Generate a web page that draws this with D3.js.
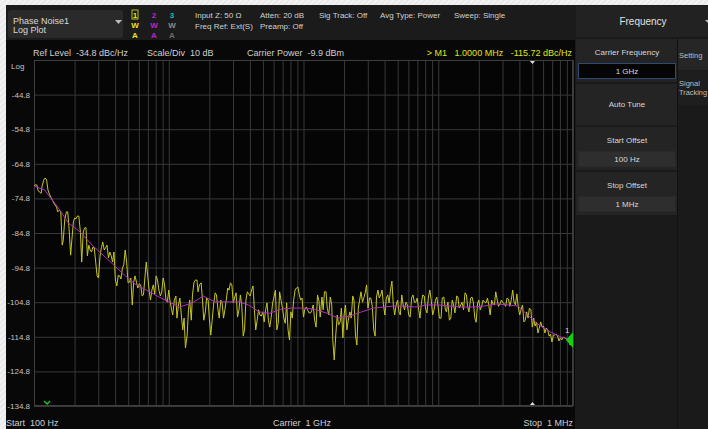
<!DOCTYPE html>
<html>
<head>
<meta charset="utf-8">
<script src="https://cdn.jsdelivr.net/npm/d3@7/dist/d3.min.js"></script>
<style>
  html, body { margin: 0; padding: 0; background: #000; }
  svg { display: block; font-family: "Liberation Sans", Arial, sans-serif; }
</style>
</head>
<body>
<svg id="chart" width="708" height="429"></svg>
<script>
// sweep offsets (Hz) of the live trace
const traceFreq = [
  100,102,105,107,110,113,115,118,121,124,127,130,133,137,140,143,147,150,154,158,162,165,169,174,
  178,182,187,191,196,200,205,210,215,221,226,232,237,243,249,255,261,267,274,280,287,294,301,309,
  316,324,332,340,348,357,365,374,383,392,402,412,422,432,442,453,464,475,487,499,511,523,536,549,
  562,576,590,604,619,634,649,665,681,698,715,732,750,768,787,806,825,845,866,887,909,931,953,976,
  1000,1020,1050,1070,1100,1130,1150,1180,1210,1240,1270,1300,1330,1370,1400,1430,1470,1500,1540,1580,1620,1650,1690,1740,
  1780,1820,1870,1910,1960,2000,2050,2100,2150,2210,2260,2320,2370,2430,2490,2550,2610,2670,2740,2800,2870,2940,3010,3090,
  3160,3240,3320,3400,3480,3570,3650,3740,3830,3920,4020,4120,4220,4320,4420,4530,4640,4750,4870,4990,5110,5230,5360,5490,
  5620,5760,5900,6040,6190,6340,6490,6650,6810,6980,7150,7320,7500,7680,7870,8060,8250,8450,8660,8870,9090,9310,9530,9760,
  10000,10200,10500,10700,11000,11300,11500,11800,12100,12400,12700,13000,13300,13700,14000,14300,14700,15000,15400,15800,16200,16500,16900,17400,
  17800,18200,18700,19100,19600,20000,20500,21000,21500,22100,22600,23200,23700,24300,24900,25500,26100,26700,27400,28000,28700,29400,30100,30900,
  31600,32400,33200,34000,34800,35700,36500,37400,38300,39200,40200,41200,42200,43200,44200,45300,46400,47500,48700,49900,51100,52300,53600,54900,
  56200,57600,59000,60400,61900,63400,64900,66500,68100,69800,71500,73200,75000,76800,78700,80600,82500,84500,86600,88700,90900,93100,95300,97600,
  100000,102000,105000,107000,110000,113000,115000,118000,121000,124000,127000,130000,133000,137000,140000,143000,147000,150000,154000,158000,162000,165000,169000,174000,
  178000,182000,187000,191000,196000,200000,205000,210000,215000,221000,226000,232000,237000,243000,249000,255000,261000,267000,274000,280000,287000,294000,301000,309000,
  316000,324000,332000,340000,348000,357000,365000,374000,383000,392000,402000,412000,422000,432000,442000,453000,464000,475000,487000,499000,511000,523000,536000,549000,
  562000,576000,590000,604000,619000,634000,649000,665000,681000,698000,715000,732000,750000,768000,787000,806000,825000,845000,866000,887000,909000,931000,953000,976000,
  1000000
]

// trace 1 (yellow, live), dBc/Hz
const traceDb = [
  -71.2,-70.9,-70.9,-72.4,-73.0,-73.3,-71.2,-69.5,-68.9,-69.5,-72.4,-73.5,
  -74.4,-75.3,-76.1,-76.7,-77.3,-78.7,-78.2,-78.7,-88.3,-86.8,-81.0,-78.7,
  -78.7,-83.4,-91.2,-86.8,-81.6,-80.5,-80.7,-79.9,-79.9,-84.5,-93.2,-84.5,
  -83.4,-83.2,-91.4,-88.3,-89.7,-90.3,-88.8,-89.1,-93.2,-97.2,-97.8,-91.5,
  -89.1,-87.4,-89.7,-89.1,-88.3,-92.0,-90.3,-91.4,-93.2,-90.3,-98.4,-100.1,
  -97.0,-97.2,-98.1,-94.9,-94.0,-89.7,-93.2,-99.2,-99.0,-97.8,-105.6,-99.0,
  -97.2,-99.0,-100.7,-99.5,-99.8,-103.0,-102.7,-97.8,-93.2,-97.2,-101.3,-104.2,
  -101.3,-99.8,-102.4,-97.2,-98.4,-101.3,-103.0,-101.8,-97.8,-99.8,-104.2,-104.8,

  -101.3,-104.2,-107.0,-108.5,-104.2,-103.0,-109.4,-105.6,-103.6,-108.5,-112.8,-109.4,
  -118.0,-114.3,-107.0,-104.2,-110.0,-102.7,-99.0,-98.4,-98.4,-101.8,-99.8,-99.2,
  -104.2,-110.0,-107.6,-103.6,-104.2,-109.4,-114.3,-110.0,-105.6,-102.1,-102.7,-107.0,
  -109.4,-104.2,-105.0,-109.4,-107.0,-104.2,-100.7,-101.3,-99.2,-99.8,-105.0,-103.3,
  -102.1,-109.1,-107.0,-102.7,-105.6,-114.6,-112.8,-104.2,-101.8,-102.4,-103.0,-101.3,
  -100.1,-107.0,-112.8,-110.0,-107.0,-108.5,-108.8,-107.6,-110.5,-107.0,-105.0,-110.0,
  -112.0,-109.1,-105.0,-103.3,-101.3,-112.8,-110.9,-101.8,-104.2,-106.5,-109.4,-110.9,
  -105.0,-112.8,-115.7,-107.6,-109.4,-104.2,-101.3,-100.7,-100.4,-102.7,-104.2,-103.6,

  -109.1,-107.0,-106.2,-107.0,-107.9,-107.9,-107.3,-105.6,-110.0,-112.0,-102.7,-104.2,
  -109.1,-103.3,-107.0,-101.8,-101.8,-106.5,-108.5,-103.3,-105.6,-115.7,-121.5,-113.7,
  -108.5,-111.4,-110.5,-106.5,-115.1,-108.5,-105.6,-112.8,-110.0,-107.6,-109.4,-103.0,
  -104.2,-114.3,-117.2,-106.5,-104.2,-101.8,-104.8,-103.6,-102.1,-99.8,-106.5,-103.6,
  -103.6,-106.0,-112.8,-114.6,-103.3,-101.3,-103.6,-102.7,-101.3,-105.6,-108.5,-103.6,
  -102.7,-105.0,-101.3,-98.7,-105.6,-108.5,-105.6,-104.2,-107.6,-108.5,-102.7,-105.6,
  -107.0,-104.8,-105.6,-108.5,-109.1,-103.6,-102.7,-104.8,-104.8,-103.6,-106.8,-109.4,
  -105.0,-102.7,-103.0,-106.8,-107.9,-103.3,-101.3,-104.2,-108.5,-107.0,-104.2,-103.3,

  -106.5,-109.4,-109.4,-103.6,-103.3,-107.0,-107.6,-104.8,-110.0,-109.4,-104.2,-105.6,
  -107.9,-103.0,-103.3,-106.5,-105.6,-104.8,-107.0,-102.1,-102.7,-106.0,-107.6,-103.6,
  -103.3,-104.8,-109.4,-110.6,-105.0,-104.2,-107.0,-106.0,-104.2,-104.8,-105.0,-103.6,
  -105.6,-108.5,-104.2,-105.3,-105.6,-101.8,-104.2,-106.0,-105.3,-104.2,-104.8,-105.3,
  -106.0,-103.6,-103.9,-106.0,-104.2,-101.3,-104.8,-105.6,-102.4,-106.0,-108.5,-107.0,
  -105.6,-110.5,-110.0,-107.6,-109.4,-106.5,-107.0,-112.0,-109.4,-111.7,-110.5,-113.7,
  -112.3,-110.5,-112.0,-111.7,-113.7,-112.3,-112.8,-114.6,-114.0,-116.3,-114.3,-114.3,
  -114.0,-114.6,-116.0,-115.1,-115.7,-114.9,-115.1,-115.4,-115.7,-116.3,-117.2,-116.0,
  -115.7
]

// trace 2 (magenta, averaged)
const avgFreq = [
  100,120,150,180,220,270,330,390,470,560,680,820,
  1000,1200,1500,1800,2200,2700,3300,3900,4700,5600,6800,8200,
  10000,12000,15000,18000,22000,27000,33000,39000,47000,56000,68000,82000,
  100000,120000,150000,180000,220000,270000,330000,390000,470000,560000,680000,820000,
  1000000
]
const avgDb = [
  -71.2,-72.4,-77.3,-81.9,-84.5,-88.3,-91.4,-94.0,-97.0,-99.5,-101.3,-103.0,
  -104.7,-106.2,-105.0,-103.0,-104.7,-104.7,-104.7,-105.6,-107.6,-108.0,-106.8,-106.5,
  -106.5,-106.8,-108.0,-109.4,-108.8,-107.6,-106.5,-106.2,-105.9,-105.9,-106.2,-105.6,
  -105.6,-105.9,-106.2,-106.2,-105.9,-105.3,-105.6,-105.9,-108.8,-111.4,-113.4,-114.9,
  -115.7
]

const yTicks = [-34.8,-44.8,-54.8,-64.8,-74.8,-84.8,-94.8,-104.8,-114.8,-124.8,-134.8]
const marker = {freq: 1000000, db: -115.72}

const svg = d3.select('#chart')
const W = 708, H = 429
const margin = {top: 60, right: 135, bottom: 23, left: 34}
const plotW = W - margin.left - margin.right
const plotH = H - margin.top - margin.bottom

// background + hatched frame
const defs = svg.append('defs')
const hatch = defs.append('pattern').attr('id', 'hatch').attr('patternUnits', 'userSpaceOnUse')
  .attr('width', 4).attr('height', 4).attr('patternTransform', 'rotate(45)')
hatch.append('rect').attr('width', 4).attr('height', 4).attr('fill', '#f2f2f2')
hatch.append('line').attr('x1', 0).attr('y1', 0).attr('x2', 0).attr('y2', 4).attr('stroke', '#d9d9d9').attr('stroke-width', 1.2)

svg.append('rect').attr('width', W).attr('height', H).attr('fill', '#080808')
svg.append('rect').attr('width', W).attr('height', 5).attr('fill', 'url(#hatch)')
svg.append('rect').attr('width', 6).attr('height', H).attr('fill', 'url(#hatch)')

// header bar
svg.append('rect').attr('x', 6).attr('y', 5).attr('width', 569).attr('height', 35).attr('fill', '#1b1b1b')
svg.append('rect').attr('x', 8).attr('y', 10).attr('width', 115).attr('height', 28).attr('rx', 3).attr('fill', '#2a2a2a')
svg.append('text').attr('x', 13).attr('y', 24).attr('fill', '#d8d8d8').attr('font-size', 9).text('Phase Noise1')
svg.append('text').attr('x', 13).attr('y', 33).attr('fill', '#d8d8d8').attr('font-size', 9).text('Log Plot')
svg.append('path').attr('d', 'M115,20 L122,20 L118.5,24 Z').attr('fill', '#bbb')

const traceCols = [
  {n: '1', c: '#e4e41e', w: '#e4e41e', a: '#e4e41e', x: 135},
  {n: '2', c: '#c020c8', w: '#c020c8', a: '#c020c8', x: 154},
  {n: '3', c: '#20b8b8', w: '#8a8a8a', a: '#6a6a6a', x: 172}
]
traceCols.forEach(t => {
  const g = svg.append('g').attr('font-size', 8).attr('font-weight', 'bold').attr('text-anchor', 'middle')
  g.append('text').attr('x', t.x).attr('y', 18).attr('fill', t.c).text(t.n)
  g.append('text').attr('x', t.x).attr('y', 28).attr('fill', t.w).text('W')
  g.append('text').attr('x', t.x).attr('y', 38).attr('fill', t.a).text('A')
})
svg.append('rect').attr('x', 132).attr('y', 10).attr('width', 6).attr('height', 9).attr('fill', 'none').attr('stroke', '#e4e41e').attr('stroke-width', 0.8)

const hdr = [
  ['Input Z: 50 Ω', 195, 18], ['Freq Ref: Ext(S)', 195, 29],
  ['Atten: 20 dB', 260, 18], ['Preamp: Off', 260, 29],
  ['Sig Track: Off', 319, 18], ['Avg Type: Power', 380, 18], ['Sweep: Single', 454, 18]
]
hdr.forEach(h => svg.append('text').attr('x', h[1]).attr('y', h[2]).attr('fill', '#d0d0d0').attr('font-size', 8).text(h[0]))

// info row
const info = svg.append('g').attr('font-size', 9).attr('fill', '#d0d0d0')
info.append('text').attr('x', 33).attr('y', 56).attr('xml:space', 'preserve').text('Ref Level  -34.8 dBc/Hz')
info.append('text').attr('x', 147).attr('y', 56).attr('xml:space', 'preserve').text('Scale/Div  10 dB')
info.append('text').attr('x', 247).attr('y', 56).attr('xml:space', 'preserve').text('Carrier Power  -9.9 dBm')
info.append('text').attr('x', 572).attr('y', 56).attr('text-anchor', 'end').attr('fill', '#e2e21e')
  .attr('xml:space', 'preserve').text('> M1   1.0000 MHz   -115.72 dBc/Hz')

// scales
const x = d3.scaleLog().domain([100, 1e6]).range([margin.left, margin.left + plotW])
const y = d3.scaleLinear().domain([-134.8, -34.8]).range([margin.top + plotH, margin.top])

const plot = svg.append('g')
plot.append('rect').attr('x', margin.left).attr('y', margin.top).attr('width', plotW).attr('height', plotH).attr('fill', '#050505')

// vertical grid (log minor lines)
plot.append('g')
  .attr('transform', `translate(0,${margin.top + plotH})`)
  .call(d3.axisBottom(x).tickSize(-plotH).tickFormat(''))
  .call(g => g.select('.domain').remove())
  .call(g => g.selectAll('.tick line').attr('stroke', '#383838'))

// horizontal grid + labels
plot.append('g')
  .attr('transform', `translate(${margin.left},0)`)
  .call(d3.axisLeft(y).tickValues(yTicks).tickSize(-plotW).tickPadding(4)
    .tickFormat(d => d === -34.8 ? '' : d.toFixed(1)))
  .call(g => g.select('.domain').remove())
  .call(g => g.selectAll('.tick line').attr('stroke', '#383838'))
  .call(g => g.selectAll('.tick text').attr('fill', '#c4c4c4').attr('font-size', 8)
    .attr('font-family', '"Liberation Sans", Arial, sans-serif'))
svg.append('text').attr('x', 11).attr('y', 69).attr('fill', '#c4c4c4').attr('font-size', 8).text('Log')

plot.append('rect').attr('x', margin.left + 0.5).attr('y', margin.top + 0.5).attr('width', plotW - 1).attr('height', plotH - 1)
  .attr('fill', 'none').attr('stroke', '#3e3e3e')

// traces
const clip = defs.append('clipPath').attr('id', 'clip')
clip.append('rect').attr('x', margin.left).attr('y', margin.top).attr('width', plotW).attr('height', plotH)

const line = d3.line().x(d => x(d[0])).y(d => y(d[1]))
plot.append('path')
  .datum(d3.zip(traceFreq, traceDb))
  .attr('clip-path', 'url(#clip)')
  .attr('fill', 'none').attr('stroke', '#c6c624').attr('stroke-width', 1)
  .attr('stroke-linejoin', 'round')
  .attr('d', line)
plot.append('path')
  .datum(d3.zip(avgFreq, avgDb))
  .attr('clip-path', 'url(#clip)')
  .attr('fill', 'none').attr('stroke', '#b22fbe').attr('stroke-width', 1)
  .attr('d', line)

// markers
const mx = x(marker.freq), my = y(marker.db)
plot.append('path').attr('d', `M${mx},${my - 8} L${mx - 7},${my} L${mx},${my + 8} Z`).attr('fill', '#12d012')
plot.append('text').attr('x', mx - 8).attr('y', my - 7).attr('fill', '#d8d8d8').attr('font-size', 8).text('1')
const lx = x(500000)
plot.append('path').attr('d', `M${lx - 2.5},${margin.top + 1} L${lx + 2.5},${margin.top + 1} L${lx},${margin.top + 4} Z`).attr('fill', '#ddd')
plot.append('path').attr('d', `M${lx - 2.5},${margin.top + plotH - 1} L${lx + 2.5},${margin.top + plotH - 1} L${lx},${margin.top + plotH - 4} Z`).attr('fill', '#ddd')
const gx = x(125)
plot.append('path').attr('d', `M${gx - 3},${margin.top + plotH - 5} L${gx},${margin.top + plotH - 2} L${gx + 3},${margin.top + plotH - 5}`)
  .attr('fill', 'none').attr('stroke', '#18d018').attr('stroke-width', 1.3)

// bottom labels
const foot = svg.append('g').attr('font-size', 9).attr('fill', '#d0d0d0')
foot.append('text').attr('x', 6).attr('y', 426).attr('xml:space', 'preserve').text('Start  100 Hz')
foot.append('text').attr('x', 273).attr('y', 426).attr('xml:space', 'preserve').text('Carrier  1 GHz')
foot.append('text').attr('x', 573).attr('y', 426).attr('text-anchor', 'end').attr('xml:space', 'preserve').text('Stop  1 MHz')

// right side panel
const panel = svg.append('g').attr('font-size', 8).attr('text-anchor', 'middle')
panel.append('rect').attr('x', 575).attr('y', 5).attr('width', 133).attr('height', 424).attr('fill', '#1a1a1a')
panel.append('rect').attr('x', 576).attr('y', 6).attr('width', 132).attr('height', 31).attr('fill', '#222')
panel.append('text').attr('x', 643).attr('y', 25).attr('fill', '#e0e0e0').attr('font-size', 10).text('Frequency')
panel.append('path').attr('d', 'M705,20 L708,20 L708,23 Z').attr('fill', '#bbb')

const blocks = [
  {y: 39, h: 43, label: 'Carrier Frequency', value: '1 GHz', active: true},
  {y: 84, h: 41, label: 'Auto Tune', value: null},
  {y: 127, h: 43, label: 'Start Offset', value: '100 Hz'},
  {y: 172, h: 43, label: 'Stop Offset', value: '1 MHz'}
]
blocks.forEach(b => {
  panel.append('rect').attr('x', 576).attr('y', b.y).attr('width', 101).attr('height', b.h).attr('fill', '#242424')
  if (b.value) {
    panel.append('text').attr('x', 627).attr('y', b.y + 16).attr('fill', '#d8d8d8').text(b.label)
    panel.append('rect').attr('x', 578.5).attr('y', b.y + 24.5).attr('width', 97).attr('height', 15)
      .attr('fill', b.active ? '#050505' : '#2e2e2e')
      .attr('stroke', b.active ? '#2c4a72' : 'none')
    panel.append('text').attr('x', 627).attr('y', b.y + 35).attr('fill', '#d8d8d8').text(b.value)
  } else {
    panel.append('text').attr('x', 627).attr('y', b.y + 23).attr('fill', '#d8d8d8').text(b.label)
  }
})
panel.append('rect').attr('x', 678).attr('y', 39).attr('width', 30).attr('height', 31).attr('fill', '#262626')
panel.append('rect').attr('x', 678).attr('y', 71).attr('width', 30).attr('height', 34).attr('fill', '#1e1e1e')
const side = panel.append('g').attr('text-anchor', 'start').attr('fill', '#bdbdbd').attr('font-size', 7.5)
side.append('text').attr('x', 679).attr('y', 58).text('Setting')
side.append('text').attr('x', 679).attr('y', 86).text('Signal')
side.append('text').attr('x', 679).attr('y', 95).attr('textLength', 28).attr('lengthAdjust', 'spacingAndGlyphs').text('Tracking')
panel.append('line').attr('x1', 677.5).attr('x2', 677.5).attr('y1', 39).attr('y2', 429).attr('stroke', '#111')
</script>
</body>
</html>
